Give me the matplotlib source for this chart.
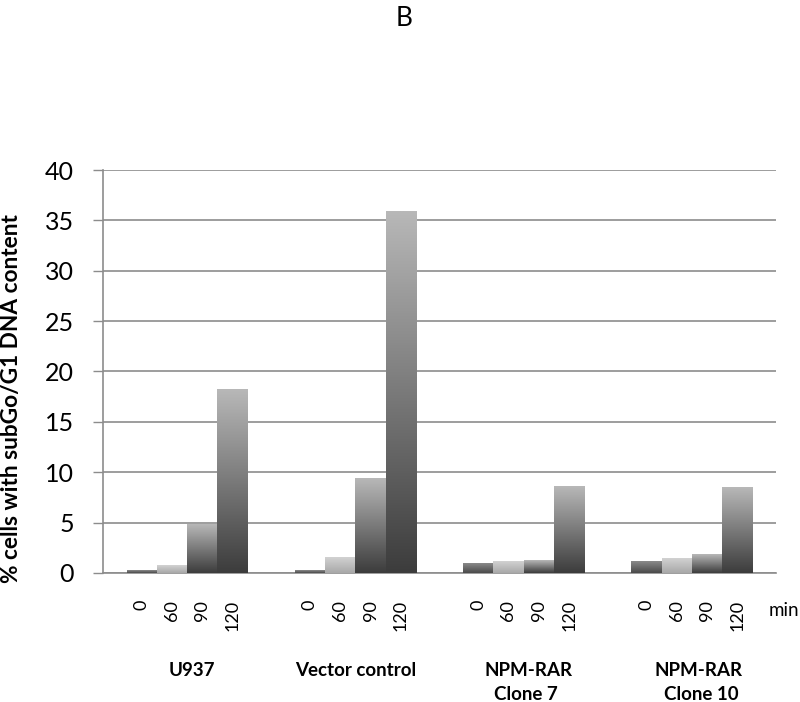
import numpy as np
import matplotlib
matplotlib.use("Agg")
import matplotlib.pyplot as plt
from matplotlib.colors import LinearSegmentedColormap

plt.rcParams['font.family'] = ['Lato', 'DejaVu Sans']

groups = ["U937", "Vector control", "NPM-RAR", "NPM-RAR"]
groups_line2 = ["", "", "Clone 7", "Clone 10"]
times = ["0", "60", "90", "120"]
values = {
    "0":   [0.2, 0.2, 0.9, 1.1],
    "60":  [0.7, 1.5, 1.1, 1.4],
    "90":  [4.8, 9.4, 1.2, 1.8],
    "120": [18.2, 35.9, 8.6, 8.5],
}
yticks = [0, 5, 10, 15, 20, 25, 30, 35, 40]

# gradient (bottom colour, top colour) per series
grads = {
    "0":   ("#4a4a4a", "#8a8a8a"),
    "60":  ("#a8a8a8", "#d2d2d2"),
    "90":  ("#3c3c3c", "#b8b8b8"),
    "120": ("#3c3c3c", "#b8b8b8"),
}

fig = plt.figure(figsize=(8.0, 7.02), dpi=100)
ax = fig.add_axes([0.12875, 0.1838, 0.8412, 0.574])

w = 0.18
x = np.arange(len(groups))
label_pos = []
for k, t in enumerate(times):
    offs = (k - 1.5) * w
    bars = ax.bar(x + offs, values[t], width=w, color='none', edgecolor='none', zorder=3)
    cmap = LinearSegmentedColormap.from_list(t, [grads[t][0], grads[t][1]])
    grad = np.linspace(0, 1, 256).reshape(-1, 1)
    for r in bars.patches:
        x0, y0 = r.get_x(), r.get_y()
        ax.imshow(grad, extent=[x0, x0 + r.get_width(), y0, y0 + r.get_height()],
                  origin='lower', aspect='auto', cmap=cmap, zorder=3, clip_path=r,
                  interpolation='bilinear')
    for xi in x + offs:
        label_pos.append((xi, t))

ax.set_xlim(-0.5, 3.5)
ax.set_ylim(0, 40)
ax.set_yticks(yticks)
ax.set_yticklabels([str(v) for v in yticks], fontsize=18)
ax.yaxis.grid(True, color='#8c8c8c', linewidth=1.2, zorder=0)
ax.set_axisbelow(True)
ax.tick_params(axis='y', length=7, width=1.0, color='#8c8c8c', pad=14)
ax.set_xticks([])
for s in ['top', 'right']:
    ax.spines[s].set_visible(False)
for s in ['left', 'bottom']:
    ax.spines[s].set_color('#8c8c8c')
    ax.spines[s].set_linewidth(1.2)

for xi, t in label_pos:
    ax.text(xi, -0.067, t, transform=ax.get_xaxis_transform(), rotation=90,
            ha='center', va='top', fontsize=13)
fig.text(769 / 800, 1 - 611 / 702, "min", ha='left', va='center', fontsize=13.5)

fig.text(12 / 800, 1 - 399 / 702, "% cells with subGo/G1 DNA content", rotation=90,
         ha='center', va='center', fontsize=16.3, fontweight='bold')

grp_x1 = [192, 356, 529, 699]
grp_x2 = [192, 356, 526, 701]
for gx1, gx2, g1, g2 in zip(grp_x1, grp_x2, groups, groups_line2):
    fig.text(gx1 / 800, 1 - 671 / 702, g1, ha='center', va='center', fontsize=13.5,
             fontweight='bold')
    if g2:
        fig.text(gx2 / 800, 1 - 695 / 702, g2, ha='center', va='center', fontsize=13.5,
                 fontweight='bold')

fig.text(404 / 800, 1 - 18 / 702, "B", ha='center', va='center', fontsize=19)

fig.savefig("out.png", dpi=100, facecolor='white')
